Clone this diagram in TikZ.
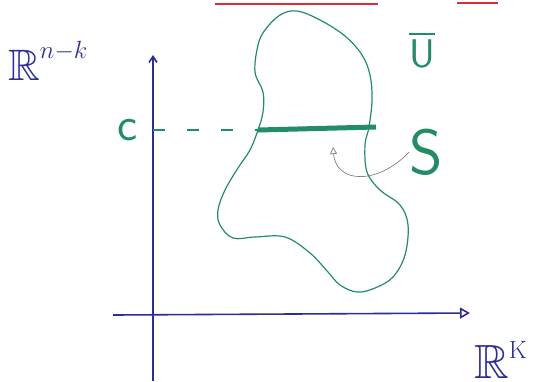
\documentclass[tikz,border=0pt]{standalone}
\usepackage{amssymb}
\usetikzlibrary{arrows.meta}
\definecolor{penblue}{RGB}{45,45,150}
\definecolor{pengreen}{RGB}{35,140,100}
\definecolor{penred}{RGB}{220,45,55}
\begin{document}
\begin{tikzpicture}[x=1pt, y=-1pt, every node/.style={inner sep=0pt},
  axis/.style={penblue, line width=1.6pt},
  sketch/.style={pengreen, line width=1.2pt}]
  \useasboundingbox (0,0) rectangle (545,381);
  % Underlines
  \draw[penred, line width=1.8pt] (215,4) -- (378,4);
  \draw[penred, line width=1.8pt] (457,3) -- (498,3);
  % Axes
  \coordinate (ybot) at (153,381);
  \coordinate (ytop) at (153,55);
  \coordinate (xleft) at (113,315);
  \coordinate (xright) at (470,313);
  \draw[axis, -{Straight Barb[length=6pt,width=8pt]}] (ybot) -- (ytop);
  \draw[axis, -{Triangle[open,length=10pt,width=11pt]}] (xleft) -- (xright);
  \node[penblue, anchor=base west, font=\fontsize{44}{50}\selectfont] (rnk) at (8,80) {$\mathbb{R}^{\raisebox{12pt}{$\scriptstyle n-k$}}$};
  \node[penblue, anchor=base west, font=\fontsize{48}{54}\selectfont] (rk) at (474,378) {$\mathbb{R}^{\raisebox{10pt}{$\scriptstyle\mathrm{K}$}}$};
  % Set U
  \draw[sketch] plot[smooth cycle, tension=0.6] coordinates {
    (297,11) (320,20) (345,36) (362,55) (370,75) (372,100) (369,127)
    (365,145) (367,172) (380,190) (400,205) (408,225) (405,255) (393,277)
    (375,288) (357,292) (340,285) (328,272) (310,253) (285,237) (255,237)
    (233,238) (220,225) (218,210) (225,190) (238,168) (250,150) (258,130)
    (263,112) (263,92) (255,72) (258,45) (265,30) (280,15)};
  \node[pengreen, font=\fontsize{40}{48}\selectfont] (ubar) at (422,50) {$\overline{\textsf{U}}$};
  % Level set S
  \coordinate (cpt) at (153,130);
  \coordinate (sl) at (258,130);
  \coordinate (sr) at (376,127);
  \coordinate (stip) at (333,147);
  \draw[pengreen, line width=1.6pt, dash pattern=on 12pt off 22pt] (cpt) -- (sl);
  \draw[pengreen, line width=5pt] (sl) -- (sr);
  \node[pengreen, font=\fontsize{48}{54}\sffamily\selectfont] (clabel) at (128,130) {c};
  \node[pengreen, font=\fontsize{64}{70}\sffamily\selectfont] (slabel) at (426,152) {S};
  \draw[gray, line width=0.7pt, -{Triangle[open,length=7pt,width=7pt]}] (slabel.west) .. controls (378,185) and (336,184) .. (stip);
\end{tikzpicture}
\end{document}
